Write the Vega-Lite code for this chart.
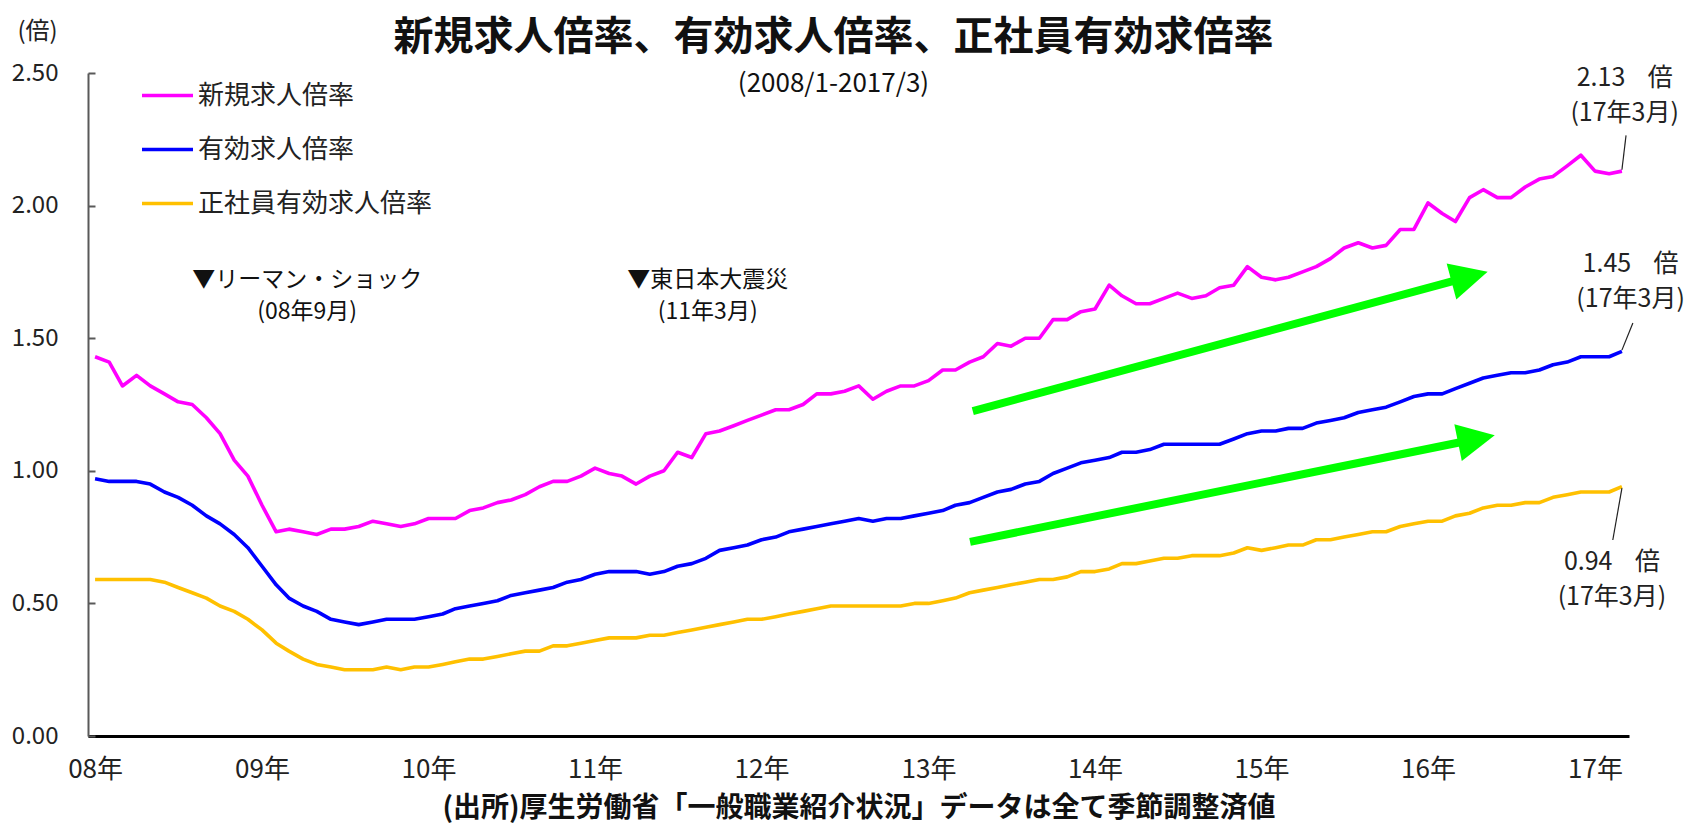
{
  "$schema": "https://vega.github.io/schema/vega-lite/v6.json",
  "autosize": {"type": "none"},
  "width": 1541,
  "height": 663,
  "padding": {"left": 88, "top": 73, "right": 62, "bottom": 87},
  "background": "white",
  "config": {"font": "Noto Sans CJK JP", "view": {"stroke": null}},
  "title": {
    "text": "新規求人倍率、有効求人倍率、正社員有効求倍率",
    "subtitle": "(2008/1-2017/3)",
    "fontSize": 40,
    "fontWeight": "bold",
    "color": "#111111",
    "subtitleFontSize": 26,
    "subtitleColor": "#111111",
    "subtitlePadding": 13,
    "anchor": "middle",
    "frame": "group",
    "dx": -25,
    "offset": -78
  },
  "layer": [
    {
      "data": {
        "values": [
          {"month": "2008-01-01", "新規求人倍率": 1.43, "有効求人倍率": 0.97, "正社員有効求人倍率": 0.59},
          {"month": "2008-02-01", "新規求人倍率": 1.41, "有効求人倍率": 0.96, "正社員有効求人倍率": 0.59},
          {"month": "2008-03-01", "新規求人倍率": 1.32, "有効求人倍率": 0.96, "正社員有効求人倍率": 0.59},
          {"month": "2008-04-01", "新規求人倍率": 1.36, "有効求人倍率": 0.96, "正社員有効求人倍率": 0.59},
          {"month": "2008-05-01", "新規求人倍率": 1.32, "有効求人倍率": 0.95, "正社員有効求人倍率": 0.59},
          {"month": "2008-06-01", "新規求人倍率": 1.29, "有効求人倍率": 0.92, "正社員有効求人倍率": 0.58},
          {"month": "2008-07-01", "新規求人倍率": 1.26, "有効求人倍率": 0.90, "正社員有効求人倍率": 0.56},
          {"month": "2008-08-01", "新規求人倍率": 1.25, "有効求人倍率": 0.87, "正社員有効求人倍率": 0.54},
          {"month": "2008-09-01", "新規求人倍率": 1.20, "有効求人倍率": 0.83, "正社員有効求人倍率": 0.52},
          {"month": "2008-10-01", "新規求人倍率": 1.14, "有効求人倍率": 0.80, "正社員有効求人倍率": 0.49},
          {"month": "2008-11-01", "新規求人倍率": 1.04, "有効求人倍率": 0.76, "正社員有効求人倍率": 0.47},
          {"month": "2008-12-01", "新規求人倍率": 0.98, "有効求人倍率": 0.71, "正社員有効求人倍率": 0.44},
          {"month": "2009-01-01", "新規求人倍率": 0.87, "有効求人倍率": 0.64, "正社員有効求人倍率": 0.40},
          {"month": "2009-02-01", "新規求人倍率": 0.77, "有効求人倍率": 0.57, "正社員有効求人倍率": 0.35},
          {"month": "2009-03-01", "新規求人倍率": 0.78, "有効求人倍率": 0.52, "正社員有効求人倍率": 0.32},
          {"month": "2009-04-01", "新規求人倍率": 0.77, "有効求人倍率": 0.49, "正社員有効求人倍率": 0.29},
          {"month": "2009-05-01", "新規求人倍率": 0.76, "有効求人倍率": 0.47, "正社員有効求人倍率": 0.27},
          {"month": "2009-06-01", "新規求人倍率": 0.78, "有効求人倍率": 0.44, "正社員有効求人倍率": 0.26},
          {"month": "2009-07-01", "新規求人倍率": 0.78, "有効求人倍率": 0.43, "正社員有効求人倍率": 0.25},
          {"month": "2009-08-01", "新規求人倍率": 0.79, "有効求人倍率": 0.42, "正社員有効求人倍率": 0.25},
          {"month": "2009-09-01", "新規求人倍率": 0.81, "有効求人倍率": 0.43, "正社員有効求人倍率": 0.25},
          {"month": "2009-10-01", "新規求人倍率": 0.80, "有効求人倍率": 0.44, "正社員有効求人倍率": 0.26},
          {"month": "2009-11-01", "新規求人倍率": 0.79, "有効求人倍率": 0.44, "正社員有効求人倍率": 0.25},
          {"month": "2009-12-01", "新規求人倍率": 0.80, "有効求人倍率": 0.44, "正社員有効求人倍率": 0.26},
          {"month": "2010-01-01", "新規求人倍率": 0.82, "有効求人倍率": 0.45, "正社員有効求人倍率": 0.26},
          {"month": "2010-02-01", "新規求人倍率": 0.82, "有効求人倍率": 0.46, "正社員有効求人倍率": 0.27},
          {"month": "2010-03-01", "新規求人倍率": 0.82, "有効求人倍率": 0.48, "正社員有効求人倍率": 0.28},
          {"month": "2010-04-01", "新規求人倍率": 0.85, "有効求人倍率": 0.49, "正社員有効求人倍率": 0.29},
          {"month": "2010-05-01", "新規求人倍率": 0.86, "有効求人倍率": 0.50, "正社員有効求人倍率": 0.29},
          {"month": "2010-06-01", "新規求人倍率": 0.88, "有効求人倍率": 0.51, "正社員有効求人倍率": 0.30},
          {"month": "2010-07-01", "新規求人倍率": 0.89, "有効求人倍率": 0.53, "正社員有効求人倍率": 0.31},
          {"month": "2010-08-01", "新規求人倍率": 0.91, "有効求人倍率": 0.54, "正社員有効求人倍率": 0.32},
          {"month": "2010-09-01", "新規求人倍率": 0.94, "有効求人倍率": 0.55, "正社員有効求人倍率": 0.32},
          {"month": "2010-10-01", "新規求人倍率": 0.96, "有効求人倍率": 0.56, "正社員有効求人倍率": 0.34},
          {"month": "2010-11-01", "新規求人倍率": 0.96, "有効求人倍率": 0.58, "正社員有効求人倍率": 0.34},
          {"month": "2010-12-01", "新規求人倍率": 0.98, "有効求人倍率": 0.59, "正社員有効求人倍率": 0.35},
          {"month": "2011-01-01", "新規求人倍率": 1.01, "有効求人倍率": 0.61, "正社員有効求人倍率": 0.36},
          {"month": "2011-02-01", "新規求人倍率": 0.99, "有効求人倍率": 0.62, "正社員有効求人倍率": 0.37},
          {"month": "2011-03-01", "新規求人倍率": 0.98, "有効求人倍率": 0.62, "正社員有効求人倍率": 0.37},
          {"month": "2011-04-01", "新規求人倍率": 0.95, "有効求人倍率": 0.62, "正社員有効求人倍率": 0.37},
          {"month": "2011-05-01", "新規求人倍率": 0.98, "有効求人倍率": 0.61, "正社員有効求人倍率": 0.38},
          {"month": "2011-06-01", "新規求人倍率": 1.00, "有効求人倍率": 0.62, "正社員有効求人倍率": 0.38},
          {"month": "2011-07-01", "新規求人倍率": 1.07, "有効求人倍率": 0.64, "正社員有効求人倍率": 0.39},
          {"month": "2011-08-01", "新規求人倍率": 1.05, "有効求人倍率": 0.65, "正社員有効求人倍率": 0.40},
          {"month": "2011-09-01", "新規求人倍率": 1.14, "有効求人倍率": 0.67, "正社員有効求人倍率": 0.41},
          {"month": "2011-10-01", "新規求人倍率": 1.15, "有効求人倍率": 0.70, "正社員有効求人倍率": 0.42},
          {"month": "2011-11-01", "新規求人倍率": 1.17, "有効求人倍率": 0.71, "正社員有効求人倍率": 0.43},
          {"month": "2011-12-01", "新規求人倍率": 1.19, "有効求人倍率": 0.72, "正社員有効求人倍率": 0.44},
          {"month": "2012-01-01", "新規求人倍率": 1.21, "有効求人倍率": 0.74, "正社員有効求人倍率": 0.44},
          {"month": "2012-02-01", "新規求人倍率": 1.23, "有効求人倍率": 0.75, "正社員有効求人倍率": 0.45},
          {"month": "2012-03-01", "新規求人倍率": 1.23, "有効求人倍率": 0.77, "正社員有効求人倍率": 0.46},
          {"month": "2012-04-01", "新規求人倍率": 1.25, "有効求人倍率": 0.78, "正社員有効求人倍率": 0.47},
          {"month": "2012-05-01", "新規求人倍率": 1.29, "有効求人倍率": 0.79, "正社員有効求人倍率": 0.48},
          {"month": "2012-06-01", "新規求人倍率": 1.29, "有効求人倍率": 0.80, "正社員有効求人倍率": 0.49},
          {"month": "2012-07-01", "新規求人倍率": 1.30, "有効求人倍率": 0.81, "正社員有効求人倍率": 0.49},
          {"month": "2012-08-01", "新規求人倍率": 1.32, "有効求人倍率": 0.82, "正社員有効求人倍率": 0.49},
          {"month": "2012-09-01", "新規求人倍率": 1.27, "有効求人倍率": 0.81, "正社員有効求人倍率": 0.49},
          {"month": "2012-10-01", "新規求人倍率": 1.30, "有効求人倍率": 0.82, "正社員有効求人倍率": 0.49},
          {"month": "2012-11-01", "新規求人倍率": 1.32, "有効求人倍率": 0.82, "正社員有効求人倍率": 0.49},
          {"month": "2012-12-01", "新規求人倍率": 1.32, "有効求人倍率": 0.83, "正社員有効求人倍率": 0.50},
          {"month": "2013-01-01", "新規求人倍率": 1.34, "有効求人倍率": 0.84, "正社員有効求人倍率": 0.50},
          {"month": "2013-02-01", "新規求人倍率": 1.38, "有効求人倍率": 0.85, "正社員有効求人倍率": 0.51},
          {"month": "2013-03-01", "新規求人倍率": 1.38, "有効求人倍率": 0.87, "正社員有効求人倍率": 0.52},
          {"month": "2013-04-01", "新規求人倍率": 1.41, "有効求人倍率": 0.88, "正社員有効求人倍率": 0.54},
          {"month": "2013-05-01", "新規求人倍率": 1.43, "有効求人倍率": 0.90, "正社員有効求人倍率": 0.55},
          {"month": "2013-06-01", "新規求人倍率": 1.48, "有効求人倍率": 0.92, "正社員有効求人倍率": 0.56},
          {"month": "2013-07-01", "新規求人倍率": 1.47, "有効求人倍率": 0.93, "正社員有効求人倍率": 0.57},
          {"month": "2013-08-01", "新規求人倍率": 1.50, "有効求人倍率": 0.95, "正社員有効求人倍率": 0.58},
          {"month": "2013-09-01", "新規求人倍率": 1.50, "有効求人倍率": 0.96, "正社員有効求人倍率": 0.59},
          {"month": "2013-10-01", "新規求人倍率": 1.57, "有効求人倍率": 0.99, "正社員有効求人倍率": 0.59},
          {"month": "2013-11-01", "新規求人倍率": 1.57, "有効求人倍率": 1.01, "正社員有効求人倍率": 0.60},
          {"month": "2013-12-01", "新規求人倍率": 1.60, "有効求人倍率": 1.03, "正社員有効求人倍率": 0.62},
          {"month": "2014-01-01", "新規求人倍率": 1.61, "有効求人倍率": 1.04, "正社員有効求人倍率": 0.62},
          {"month": "2014-02-01", "新規求人倍率": 1.70, "有効求人倍率": 1.05, "正社員有効求人倍率": 0.63},
          {"month": "2014-03-01", "新規求人倍率": 1.66, "有効求人倍率": 1.07, "正社員有効求人倍率": 0.65},
          {"month": "2014-04-01", "新規求人倍率": 1.63, "有効求人倍率": 1.07, "正社員有効求人倍率": 0.65},
          {"month": "2014-05-01", "新規求人倍率": 1.63, "有効求人倍率": 1.08, "正社員有効求人倍率": 0.66},
          {"month": "2014-06-01", "新規求人倍率": 1.65, "有効求人倍率": 1.10, "正社員有効求人倍率": 0.67},
          {"month": "2014-07-01", "新規求人倍率": 1.67, "有効求人倍率": 1.10, "正社員有効求人倍率": 0.67},
          {"month": "2014-08-01", "新規求人倍率": 1.65, "有効求人倍率": 1.10, "正社員有効求人倍率": 0.68},
          {"month": "2014-09-01", "新規求人倍率": 1.66, "有効求人倍率": 1.10, "正社員有効求人倍率": 0.68},
          {"month": "2014-10-01", "新規求人倍率": 1.69, "有効求人倍率": 1.10, "正社員有効求人倍率": 0.68},
          {"month": "2014-11-01", "新規求人倍率": 1.70, "有効求人倍率": 1.12, "正社員有効求人倍率": 0.69},
          {"month": "2014-12-01", "新規求人倍率": 1.77, "有効求人倍率": 1.14, "正社員有効求人倍率": 0.71},
          {"month": "2015-01-01", "新規求人倍率": 1.73, "有効求人倍率": 1.15, "正社員有効求人倍率": 0.70},
          {"month": "2015-02-01", "新規求人倍率": 1.72, "有効求人倍率": 1.15, "正社員有効求人倍率": 0.71},
          {"month": "2015-03-01", "新規求人倍率": 1.73, "有効求人倍率": 1.16, "正社員有効求人倍率": 0.72},
          {"month": "2015-04-01", "新規求人倍率": 1.75, "有効求人倍率": 1.16, "正社員有効求人倍率": 0.72},
          {"month": "2015-05-01", "新規求人倍率": 1.77, "有効求人倍率": 1.18, "正社員有効求人倍率": 0.74},
          {"month": "2015-06-01", "新規求人倍率": 1.80, "有効求人倍率": 1.19, "正社員有効求人倍率": 0.74},
          {"month": "2015-07-01", "新規求人倍率": 1.84, "有効求人倍率": 1.20, "正社員有効求人倍率": 0.75},
          {"month": "2015-08-01", "新規求人倍率": 1.86, "有効求人倍率": 1.22, "正社員有効求人倍率": 0.76},
          {"month": "2015-09-01", "新規求人倍率": 1.84, "有効求人倍率": 1.23, "正社員有効求人倍率": 0.77},
          {"month": "2015-10-01", "新規求人倍率": 1.85, "有効求人倍率": 1.24, "正社員有効求人倍率": 0.77},
          {"month": "2015-11-01", "新規求人倍率": 1.91, "有効求人倍率": 1.26, "正社員有効求人倍率": 0.79},
          {"month": "2015-12-01", "新規求人倍率": 1.91, "有効求人倍率": 1.28, "正社員有効求人倍率": 0.80},
          {"month": "2016-01-01", "新規求人倍率": 2.01, "有効求人倍率": 1.29, "正社員有効求人倍率": 0.81},
          {"month": "2016-02-01", "新規求人倍率": 1.97, "有効求人倍率": 1.29, "正社員有効求人倍率": 0.81},
          {"month": "2016-03-01", "新規求人倍率": 1.94, "有効求人倍率": 1.31, "正社員有効求人倍率": 0.83},
          {"month": "2016-04-01", "新規求人倍率": 2.03, "有効求人倍率": 1.33, "正社員有効求人倍率": 0.84},
          {"month": "2016-05-01", "新規求人倍率": 2.06, "有効求人倍率": 1.35, "正社員有効求人倍率": 0.86},
          {"month": "2016-06-01", "新規求人倍率": 2.03, "有効求人倍率": 1.36, "正社員有効求人倍率": 0.87},
          {"month": "2016-07-01", "新規求人倍率": 2.03, "有効求人倍率": 1.37, "正社員有効求人倍率": 0.87},
          {"month": "2016-08-01", "新規求人倍率": 2.07, "有効求人倍率": 1.37, "正社員有効求人倍率": 0.88},
          {"month": "2016-09-01", "新規求人倍率": 2.10, "有効求人倍率": 1.38, "正社員有効求人倍率": 0.88},
          {"month": "2016-10-01", "新規求人倍率": 2.11, "有効求人倍率": 1.40, "正社員有効求人倍率": 0.90},
          {"month": "2016-11-01", "新規求人倍率": 2.15, "有効求人倍率": 1.41, "正社員有効求人倍率": 0.91},
          {"month": "2016-12-01", "新規求人倍率": 2.19, "有効求人倍率": 1.43, "正社員有効求人倍率": 0.92},
          {"month": "2017-01-01", "新規求人倍率": 2.13, "有効求人倍率": 1.43, "正社員有効求人倍率": 0.92},
          {"month": "2017-02-01", "新規求人倍率": 2.12, "有効求人倍率": 1.43, "正社員有効求人倍率": 0.92},
          {"month": "2017-03-01", "新規求人倍率": 2.13, "有効求人倍率": 1.45, "正社員有効求人倍率": 0.94}
        ]
      },
      "transform": [
        {"fold": ["新規求人倍率", "有効求人倍率", "正社員有効求人倍率"], "as": ["series", "value"]}
      ],
      "mark": {"type": "line", "strokeJoin": "round"},
      "encoding": {
        "x": {
          "field": "month",
          "type": "temporal",
          "scale": {
            "type": "utc",
            "domain": [
              {"year": 2007, "month": 12, "date": 16, "hours": 12, "utc": true},
              {"year": 2017, "month": 3, "date": 16, "hours": 12, "utc": true}
            ]
          },
          "axis": {
            "values": [
              {"year": 2008, "month": 1, "date": 1, "utc": true},
              {"year": 2009, "month": 1, "date": 1, "utc": true},
              {"year": 2010, "month": 1, "date": 1, "utc": true},
              {"year": 2011, "month": 1, "date": 1, "utc": true},
              {"year": 2012, "month": 1, "date": 1, "utc": true},
              {"year": 2013, "month": 1, "date": 1, "utc": true},
              {"year": 2014, "month": 1, "date": 1, "utc": true},
              {"year": 2015, "month": 1, "date": 1, "utc": true},
              {"year": 2016, "month": 1, "date": 1, "utc": true},
              {"year": 2017, "month": 1, "date": 1, "utc": true}
            ],
            "labelExpr": "utcFormat(datum.value, '%y') + '年'",
            "ticks": false,
            "grid": false,
            "domainColor": "#000000",
            "domainWidth": 3,
            "labelFontSize": 26,
            "labelPadding": 33,
            "labelBaseline": "middle",
            "labelFlush": false,
            "labelColor": "#222222",
            "title": "(出所)厚生労働省「一般職業紹介状況」データは全て季節調整済値",
            "titleFontSize": 28,
            "titleFontWeight": "bold",
            "titleColor": "#111111",
            "titleY": 72,
            "titleBaseline": "middle"
          }
        },
        "y": {
          "field": "value",
          "type": "quantitative",
          "scale": {"domain": [0, 2.5], "nice": false, "zero": true},
          "axis": {
            "values": [0, 0.5, 1, 1.5, 2, 2.5],
            "format": ".2f",
            "grid": false,
            "domainColor": "#595959",
            "domainWidth": 2,
            "tickColor": "#595959",
            "tickWidth": 2,
            "tickSize": -7,
            "labelPadding": 37,
            "labelFontSize": 24,
            "labelColor": "#222222",
            "title": "(倍)",
            "titleAngle": 0,
            "titleX": -51,
            "titleY": -42,
            "titleAlign": "center",
            "titleBaseline": "middle",
            "titleFontSize": 24,
            "titleFontWeight": "normal",
            "titleColor": "#222222"
          }
        },
        "color": {
          "field": "series",
          "type": "nominal",
          "scale": {
            "domain": ["新規求人倍率", "有効求人倍率", "正社員有効求人倍率"],
            "range": ["#FF00FF", "#0000FF", "#FFC000"]
          },
          "legend": {
            "orient": "none",
            "legendX": 52,
            "legendY": -5,
            "title": null,
            "padding": 0,
            "symbolType": "stroke",
            "symbolSize": 2601,
            "symbolStrokeWidth": 4,
            "labelFontSize": 26,
            "labelOffset": 3,
            "labelColor": "#222222",
            "labelLimit": 400,
            "rowPadding": 13
          }
        },
        "strokeWidth": {
          "field": "series",
          "type": "nominal",
          "scale": {
            "domain": ["新規求人倍率", "有効求人倍率", "正社員有効求人倍率"],
            "range": [3.6, 3.6, 4.6]
          },
          "legend": null
        }
      }
    },
    {
      "data": {
        "values": [
          {"d1": "2013-04-08", "v1": 1.225, "d2": "2016-04-01", "v2": 1.732},
          {"d1": "2013-04-02", "v1": 0.732, "d2": "2016-04-16", "v2": 1.12}
        ]
      },
      "mark": {"type": "rule", "color": "#00FF00", "strokeWidth": 8, "strokeCap": "butt"},
      "encoding": {
        "x": {"field": "d1", "type": "temporal", "scale": {"type": "utc", "domain": [{"year": 2007, "month": 12, "date": 16, "hours": 12, "utc": true}, {"year": 2017, "month": 3, "date": 16, "hours": 12, "utc": true}]}},
        "y": {"field": "v1", "type": "quantitative", "scale": {"domain": [0, 2.5], "nice": false}},
        "x2": {"field": "d2"},
        "y2": {"field": "v2"}
      }
    },
    {
      "data": {"values": [{"d": "2016-04-01", "v": 1.732}]},
      "mark": {"type": "point", "shape": "M-1,-1L1,0L-1,1Z", "filled": true, "color": "#00FF00", "opacity": 1, "size": 1400, "angle": -15},
      "encoding": {
        "x": {"field": "d", "type": "temporal", "scale": {"type": "utc", "domain": [{"year": 2007, "month": 12, "date": 16, "hours": 12, "utc": true}, {"year": 2017, "month": 3, "date": 16, "hours": 12, "utc": true}]}},
        "y": {"field": "v", "type": "quantitative", "scale": {"domain": [0, 2.5], "nice": false}}
      }
    },
    {
      "data": {"values": [{"d": "2016-04-16", "v": 1.12}]},
      "mark": {"type": "point", "shape": "M-1,-1L1,0L-1,1Z", "filled": true, "color": "#00FF00", "opacity": 1, "size": 1400, "angle": -11.5},
      "encoding": {
        "x": {"field": "d", "type": "temporal", "scale": {"type": "utc", "domain": [{"year": 2007, "month": 12, "date": 16, "hours": 12, "utc": true}, {"year": 2017, "month": 3, "date": 16, "hours": 12, "utc": true}]}},
        "y": {"field": "v", "type": "quantitative", "scale": {"domain": [0, 2.5], "nice": false}}
      }
    },
    {
      "data": {
        "values": [
          {"d1": "2017-03-10", "v1": 2.265, "d2": "2017-03-01", "v2": 2.135},
          {"d1": "2017-03-25", "v1": 1.557, "d2": "2017-03-01", "v2": 1.455},
          {"d1": "2017-02-09", "v1": 0.739, "d2": "2017-03-01", "v2": 0.935}
        ]
      },
      "mark": {"type": "rule", "color": "#222222", "strokeWidth": 1.2},
      "encoding": {
        "x": {"field": "d1", "type": "temporal", "scale": {"type": "utc", "domain": [{"year": 2007, "month": 12, "date": 16, "hours": 12, "utc": true}, {"year": 2017, "month": 3, "date": 16, "hours": 12, "utc": true}]}},
        "y": {"field": "v1", "type": "quantitative", "scale": {"domain": [0, 2.5], "nice": false}},
        "x2": {"field": "d2"},
        "y2": {"field": "v2"}
      }
    },
    {
      "data": {
        "values": [
          {"d": "2009-04-10", "v": 1.719, "label": "▼リーマン・ショック\n(08年9月)"},
          {"d": "2011-09-05", "v": 1.719, "label": "▼東日本大震災\n(11年3月)"}
        ]
      },
      "mark": {"type": "text", "fontSize": 23, "align": "center", "baseline": "middle", "lineBreak": "\n", "lineHeight": 32, "color": "#111111"},
      "encoding": {
        "x": {"field": "d", "type": "temporal", "scale": {"type": "utc", "domain": [{"year": 2007, "month": 12, "date": 16, "hours": 12, "utc": true}, {"year": 2017, "month": 3, "date": 16, "hours": 12, "utc": true}]}},
        "y": {"field": "v", "type": "quantitative", "scale": {"domain": [0, 2.5], "nice": false}},
        "text": {"field": "label", "type": "nominal"}
      }
    },
    {
      "data": {
        "values": [
          {"d": "2017-03-07", "v": 2.48, "label": "2.13\u00a0\u00a0\u00a0\u00a0倍\n(17年3月)"},
          {"d": "2017-03-20", "v": 1.779, "label": "1.45\u00a0\u00a0\u00a0\u00a0倍\n(17年3月)"},
          {"d": "2017-02-07", "v": 0.655, "label": "0.94\u00a0\u00a0\u00a0\u00a0倍\n(17年3月)"}
        ]
      },
      "mark": {"type": "text", "fontSize": 25, "align": "center", "baseline": "middle", "lineBreak": "\n", "lineHeight": 35, "color": "#222222"},
      "encoding": {
        "x": {"field": "d", "type": "temporal", "scale": {"type": "utc", "domain": [{"year": 2007, "month": 12, "date": 16, "hours": 12, "utc": true}, {"year": 2017, "month": 3, "date": 16, "hours": 12, "utc": true}]}},
        "y": {"field": "v", "type": "quantitative", "scale": {"domain": [0, 2.5], "nice": false}},
        "text": {"field": "label", "type": "nominal"}
      }
    }
  ]
}
